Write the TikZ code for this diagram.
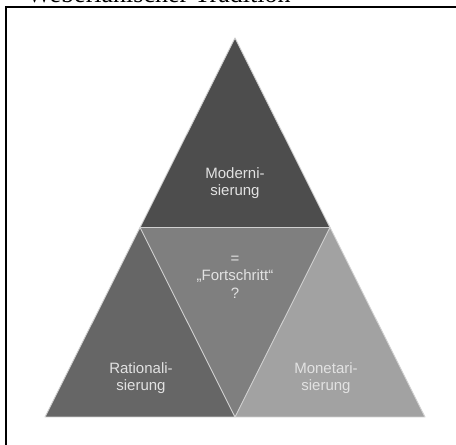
\documentclass[tikz,border=0pt]{standalone}
\usepackage{fontspec}
\setmainfont{Liberation Serif}
\newfontfamily\arialfont{Liberation Sans}
\definecolor{topgray}{HTML}{4D4D4D}
\definecolor{leftgray}{HTML}{666666}
\definecolor{midgray}{HTML}{7F7F7F}
\definecolor{rightgray}{HTML}{A2A2A2}
\definecolor{edgegray}{HTML}{D0D0D0}
\definecolor{labelgray}{HTML}{E2E2E2}
\begin{document}
\begin{tikzpicture}[x=1pt,y=1pt,
  tri/.style={draw=edgegray,line width=0.9pt,line join=round},
  lbl/.style={font=\arialfont\fontsize{15}{17.5}\selectfont,text=labelgray,align=center,inner sep=0pt},
  frame/.style={line width=2.2pt,black}]
\useasboundingbox (0,0) rectangle (456,445);
% header text (cut off)
\node[anchor=base west,inner sep=0pt,font=\fontsize{26}{30}\selectfont] (hdr) at (27,442.5) {Weberianischer Tradition};
% frame lines
\coordinate (fl1) at (6,-2);
\coordinate (fl2) at (6,438);
\coordinate (ft1) at (5,438);
\coordinate (ft2) at (458,438);
\draw[frame] (fl1) -- (fl2);
\draw[frame] (ft1) -- (ft2);
% triangle corners
\coordinate (A) at (235,407);
\coordinate (BL) at (45,28);
\coordinate (BR) at (425,28);
\coordinate (ML) at (140,217.5);
\coordinate (MR) at (330,217.5);
\coordinate (MB) at (235,28);
\fill[topgray] (A) -- (ML) -- (MR) -- cycle;
\fill[leftgray] (ML) -- (BL) -- (MB) -- cycle;
\fill[midgray] (ML) -- (MR) -- (MB) -- cycle;
\fill[rightgray] (MR) -- (MB) -- (BR) -- cycle;
\draw[tri] (A) -- (ML) -- (MR) -- cycle;
\draw[tri] (ML) -- (BL) -- (MB) -- cycle;
\draw[tri] (MR) -- (MB) -- (BR) -- cycle;
% labels
\node[lbl] (mod) at (235,262) {Moderni-\\sierung};
\node[lbl] (fort) at (235,168) {=\\„Fortschritt“\\?};
\node[lbl] (rat) at (141,67) {Rationali-\\sierung};
\node[lbl] (mon) at (326,67) {Monetari-\\sierung};
\end{tikzpicture}
\end{document}
